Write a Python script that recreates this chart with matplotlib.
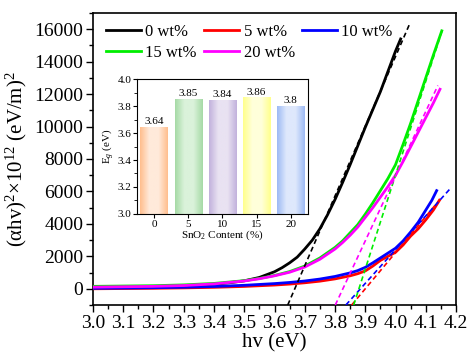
import numpy as np
import matplotlib
matplotlib.use('Agg')
import matplotlib.pyplot as plt
from matplotlib.ticker import MultipleLocator
from matplotlib.colors import LinearSegmentedColormap

plt.rcParams['font.family'] = ['Liberation Serif', 'DejaVu Serif']
plt.rcParams['mathtext.fontset'] = 'custom'
plt.rcParams['mathtext.rm'] = 'Liberation Serif'
plt.rcParams['mathtext.it'] = 'Liberation Serif:italic'

# Tauc curves
hv_0 = [3.0, 3.1, 3.2, 3.3, 3.35, 3.4, 3.45, 3.5, 3.55, 3.6, 3.625, 3.65, 3.675, 3.7, 3.725,
        3.75, 3.775, 3.8, 3.825, 3.85, 3.875, 3.9, 3.925, 3.95, 3.975, 4.0, 4.017]
y_0 = [80, 100, 130, 180, 220, 280, 370, 490, 700, 1050, 1300, 1600, 1950, 2450, 3000,
       3700, 4550, 5500, 6550, 7650, 8800, 9950, 11050, 12150, 13400, 14650, 15400]

hv_5 = [3.0, 3.1, 3.2, 3.3, 3.4, 3.5, 3.6, 3.65, 3.7, 3.75, 3.8, 3.85, 3.875, 3.9, 3.925,
        3.95, 3.975, 4.0, 4.025, 4.05, 4.075, 4.1, 4.125, 4.145]
y_5 = [0, 15, 30, 55, 90, 145, 230, 290, 370, 470, 610, 800, 930, 1100, 1400,
       1750, 2000, 2250, 2700, 3250, 3700, 4250, 4850, 5450]

hv_10 = [3.0, 3.1, 3.2, 3.3, 3.4, 3.5, 3.6, 3.65, 3.7, 3.75, 3.8, 3.85, 3.875, 3.9, 3.925,
         3.95, 3.975, 4.0, 4.025, 4.05, 4.075, 4.1, 4.12, 4.136]
y_10 = [30, 45, 65, 95, 140, 215, 320, 390, 480, 600, 760, 980, 1120, 1320, 1600,
        1900, 2200, 2500, 2950, 3500, 4100, 4850, 5450, 6050]

hv_15 = [3.0, 3.1, 3.2, 3.3, 3.4, 3.5, 3.55, 3.6, 3.65, 3.7, 3.75, 3.8, 3.825, 3.85, 3.875,
         3.9, 3.925, 3.95, 3.975, 4.0, 4.025, 4.05, 4.075, 4.1, 4.125, 4.153]
y_15 = [150, 170, 190, 240, 330, 500, 640, 820, 1060, 1400, 1900, 2550, 2950, 3450, 3950,
        4600, 5300, 6050, 6800, 7650, 8900, 10200, 11600, 13000, 14400, 15900]

hv_20 = [3.0, 3.1, 3.2, 3.3, 3.4, 3.5, 3.55, 3.6, 3.65, 3.7, 3.75, 3.8, 3.825, 3.85, 3.875,
         3.9, 3.925, 3.95, 3.975, 4.0, 4.025, 4.05, 4.075, 4.1, 4.125, 4.147]
y_20 = [100, 125, 150, 200, 300, 480, 620, 800, 1020, 1340, 1820, 2450, 2850, 3300, 3800,
        4400, 5000, 5650, 6300, 7000, 7850, 8750, 9650, 10550, 11450, 12300]

# linear fits: x-intercept, slope, end of dashed line
fit_x0 = [3.667, 3.90, 3.884, 3.879, 3.826]
fit_slope = [43000, 22300, 20800, 57900, 39900]
fit_xend = [4.048, 4.153, 4.18, 4.156, 4.14]

labels = ['0 wt%', '5 wt%', '10 wt%', '15 wt%', '20 wt%']
colors = ['black', 'red', 'blue', '#00ee00', 'magenta']

# inset bars
content = [0, 5, 10, 15, 20]
eg = [3.64, 3.85, 3.84, 3.86, 3.8]
bar_edge = ['#FFBE8E', '#A6DAA6', '#C2B2DC', '#FFFF8C', '#9EBAF4']
bar_mid = ['#FFEADA', '#DAF2DA', '#E9E2F2', '#FFFFDA', '#DEE8FC']

fig = plt.figure(figsize=(4.68, 3.54), dpi=100)
ax = fig.add_axes([0.1987, 0.1384, 0.7757, 0.8249])

curves = [(hv_0, y_0), (hv_5, y_5), (hv_10, y_10), (hv_15, y_15), (hv_20, y_20)]
handles = []
for (hv, y), c, lab in zip(curves, colors, labels):
    h, = ax.plot(hv, y, color=c, lw=2, label=lab, zorder=3, solid_joinstyle='round')
    handles.append(h)

ylo, yhi = -1000, 17000
for x0, s, xe, c in zip(fit_x0, fit_slope, fit_xend, colors):
    xs = np.array([x0 + ylo / s, xe])
    ax.plot(xs, s * (xs - x0), ls=(0, (3, 2)), color=c, lw=1.2, zorder=4)

ax.set_xlim(3.0, 4.2)
ax.set_ylim(ylo, yhi)
ax.xaxis.set_major_locator(MultipleLocator(0.1))
ax.xaxis.set_minor_locator(MultipleLocator(0.05))
ax.yaxis.set_major_locator(MultipleLocator(2000))
ax.yaxis.set_minor_locator(MultipleLocator(1000))
ax.xaxis.set_major_formatter(plt.FormatStrFormatter('%.1f'))
ax.tick_params(which='both', direction='out', top=False, right=False, labelsize=14, pad=2)
ax.tick_params(which='major', length=5, width=1)
ax.tick_params(which='minor', length=3, width=1)
for sp in ax.spines.values():
    sp.set_linewidth(1.2)
ax.set_xlabel('hv (eV)', fontsize=15, labelpad=1)
ax.set_ylabel('(αhv)$^2$×10$^{12}$ (eV/m)$^2$', fontsize=15, labelpad=4)

order = [0, 3, 1, 4, 2]
ax.legend([handles[i] for i in order], [labels[i] for i in order], ncol=3,
          frameon=False, fontsize=12, loc='upper left', bbox_to_anchor=(-0.005, 1.015),
          handlelength=2.1, handletextpad=0.25, columnspacing=0.45, labelspacing=0.3)

ins = fig.add_axes([0.2927, 0.3955, 0.3653, 0.3813])
width = 4.0
for x, v, ce, cm in zip(content, eg, bar_edge, bar_mid):
    cmap = LinearSegmentedColormap.from_list('g', [ce, cm, cm, ce])
    grad = np.linspace(0, 1, 64).reshape(1, -1)
    ins.imshow(grad, cmap=cmap, aspect='auto', extent=(x - width / 2, x + width / 2, 3.0, v),
               interpolation='bilinear', zorder=2)
    ins.text(x, v + 0.01, f'{v:g}', ha='center', va='bottom', fontsize=8)
ins.set_xlim(-2.5, 22.5)
ins.set_ylim(3.0, 4.0)
ins.set_xticks(content)
ins.yaxis.set_major_locator(MultipleLocator(0.2))
ins.yaxis.set_minor_locator(MultipleLocator(0.1))
ins.yaxis.set_major_formatter(plt.FormatStrFormatter('%.1f'))
ins.tick_params(which='both', direction='out', top=False, right=False, labelsize=8, pad=1)
ins.tick_params(which='major', length=3)
ins.tick_params(which='minor', length=2)
ins.set_xlabel('SnO$_2$ Content (%)', fontsize=8, labelpad=0)
ins.set_ylabel('E$_g$ (eV)', fontsize=8, labelpad=1)

fig.savefig('out.png', dpi=100)
